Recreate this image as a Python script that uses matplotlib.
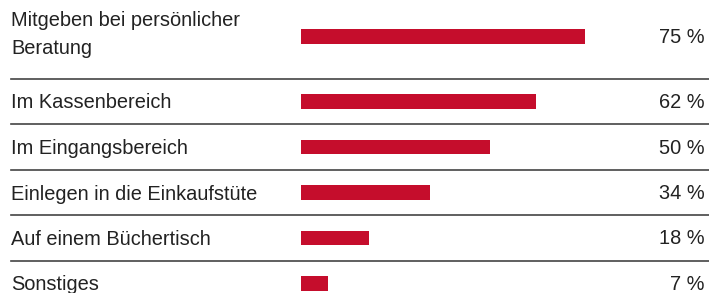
import matplotlib.pyplot as plt

labels = [
    "Mitgeben bei persönlicher\nBeratung",
    "Im Kassenbereich",
    "Im Eingangsbereich",
    "Einlegen in die Einkaufstüte",
    "Auf einem Büchertisch",
    "Sonstiges",
]
values = [75, 62, 50, 34, 18, 7]

BAR_COLOR = "#c50d2c"
TEXT_COLOR = "#222222"
LINE_COLOR = "#444444"

W, H = 709, 293
plt.rcParams["font.family"] = ["Liberation Sans", "DejaVu Sans"]

fig = plt.figure(figsize=(W / 100, H / 100), dpi=100)
ax = fig.add_axes([0, 0, 1, 1])
ax.set_axis_off()

# x: 0 % sits at pixel 301, 100 % at about pixel 680
px_per_pct = 3.787
x0 = 301
ax.set_xlim(-x0 / px_per_pct, (W - x0) / px_per_pct)
ax.set_ylim(H, 0)

# row centres in pixel units (first row is taller, two-line label)
centers = [36.5] + [101.5 + 45.5 * i for i in range(len(values) - 1)]

ax.barh(centers, values, height=14.7, left=0, color=BAR_COLOR, linewidth=0)

tr = ax.get_yaxis_transform()
for i, (lab, v, c) in enumerate(zip(labels, values, centers)):
    lines = lab.split("\n")
    base = c + 7 - (len(lines) - 1) * 17.5
    for j, line in enumerate(lines):
        ax.text(11 / W, base + j * 28.3, line, transform=tr, fontsize=14.4,
                color=TEXT_COLOR, ha="left", va="baseline")
    ax.text(705 / W, c + 6.5, f"{v} %", transform=tr, fontsize=14.4,
            color=TEXT_COLOR, ha="right", va="baseline")
    if i < len(values) - 1:
        sep = (c + centers[i + 1]) / 2 if i > 0 else 79
        ax.axhline(sep, xmin=11 / W, xmax=1, color=LINE_COLOR, linewidth=1.2)

fig.savefig("out.png", dpi=100)
